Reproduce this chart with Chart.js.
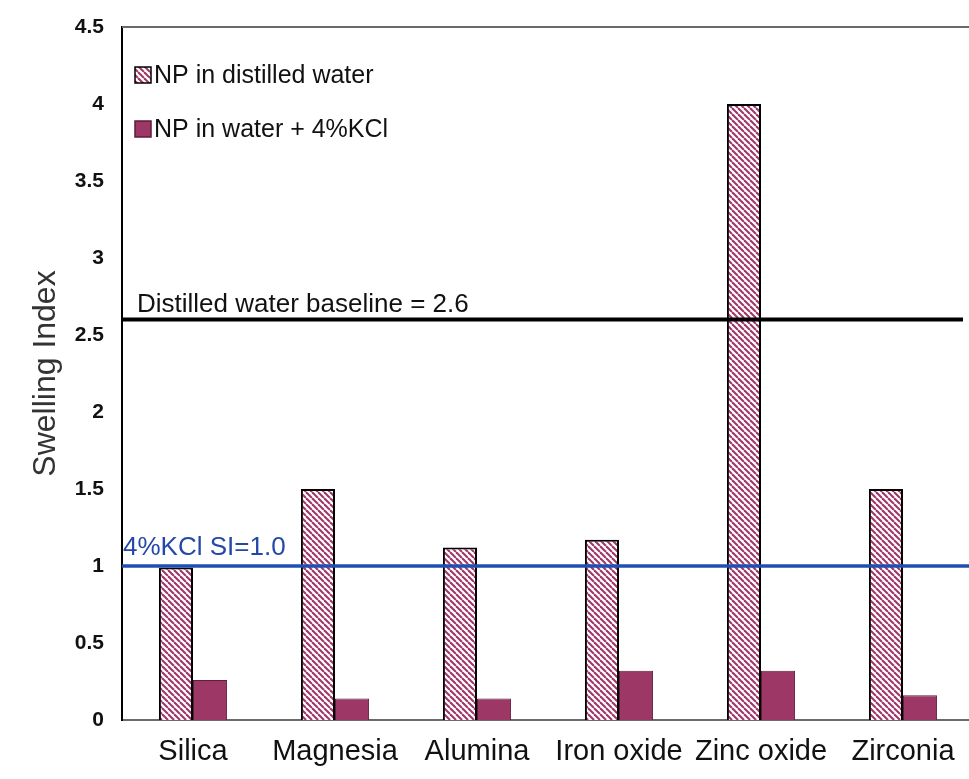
<!DOCTYPE html>
<html>
<head>
<meta charset="utf-8">
<script src="https://cdn.jsdelivr.net/npm/chart.js@4"></script>
<style>
  html, body { margin: 0; padding: 0; background: #fff; overflow: hidden; width: 969px; height: 779px; }
  canvas { display: block; }
</style>
</head>
<body>
<canvas id="chart" width="990" height="779"></canvas>
<script>
// ---- data ----
const categories = ['Silica', 'Magnesia', 'Alumina', 'Iron oxide', 'Zinc oxide', 'Zirconia'];
const seriesNames = ['NP in distilled water', 'NP in water + 4%KCl'];
const distilledWater = [0.99, 1.5, 1.12, 1.17, 4.0, 1.5];
const waterKCl = [0.26, 0.14, 0.14, 0.32, 0.32, 0.16];
const referenceValues = [2.6, 1.0];
const referenceLabels = ['Distilled water baseline = 2.6', '4%KCl SI=1.0'];

// ---- styling ----
const SANS = "'Liberation Sans', Arial, sans-serif";
const MAROON = '#9c3766';

const canvas = document.getElementById('chart');
const ctx = canvas.getContext('2d');

// diagonal "\" hatch used for the distilled-water series
function makeHatch() {
  const s = 6;
  const tile = document.createElement('canvas');
  tile.width = tile.height = s;
  const g = tile.getContext('2d');
  g.fillStyle = '#ffffff';
  g.fillRect(0, 0, s, s);
  g.strokeStyle = '#a1386a';
  g.lineWidth = 2.1;
  for (let k = -1; k <= 1; k++) {
    g.beginPath();
    g.moveTo(k * s, 0);
    g.lineTo(k * s + s, s);
    g.stroke();
  }
  return ctx.createPattern(tile, 'repeat');
}
const hatch = makeHatch();

const refStyles = [
  { color: '#000000', width: 4, labelColor: '#111111', labelX: 137, labelDy: -8, endX: 963 },
  { color: '#1f4fb0', width: 3.5, labelColor: '#2448a8', labelX: 123, labelDy: -11, endX: null }
];

// horizontal reference lines with their captions
const referenceLines = {
  id: 'referenceLines',
  afterDatasetsDraw(chart) {
    const { ctx, chartArea: a, scales: { y } } = chart;
    referenceValues.forEach((v, i) => {
      const st = refStyles[i];
      const py = y.getPixelForValue(v);
      ctx.save();
      ctx.strokeStyle = st.color;
      ctx.lineWidth = st.width;
      ctx.beginPath();
      ctx.moveTo(a.left, py);
      ctx.lineTo(st.endX || a.right, py);
      ctx.stroke();
      ctx.fillStyle = st.labelColor;
      ctx.font = '26px ' + SANS;
      ctx.textBaseline = 'alphabetic';
      ctx.textAlign = 'left';
      ctx.fillText(referenceLabels[i], st.labelX, py + st.labelDy);
      ctx.restore();
    });
  }
};

// frame line along the top of the plot and the in-plot legend
const frameAndLegend = {
  id: 'frameAndLegend',
  afterDraw(chart) {
    const { ctx, chartArea: a } = chart;
    ctx.save();
    ctx.strokeStyle = '#6a6a6a';
    ctx.lineWidth = 2;
    ctx.beginPath();
    ctx.moveTo(a.left, a.top);
    ctx.lineTo(chart.width, a.top);
    ctx.stroke();

    const items = chart.data.datasets;
    const rows = [75, 129];
    items.forEach((ds, i) => {
      const cy = rows[i];
      ctx.fillStyle = ds.backgroundColor;
      ctx.fillRect(135, cy - 8, 16, 16);
      ctx.lineWidth = 1.5;
      ctx.strokeStyle = i === 0 ? '#000' : '#5a1d3c';
      ctx.strokeRect(135, cy - 8, 16, 16);
      ctx.fillStyle = '#111';
      ctx.font = '25px ' + SANS;
      ctx.textBaseline = 'middle';
      ctx.textAlign = 'left';
      ctx.fillText(seriesNames[i], 154, cy + 1);
    });
    ctx.restore();
  }
};

new Chart(ctx, {
  type: 'bar',
  data: {
    labels: categories,
    datasets: [
      {
        label: seriesNames[0],
        data: distilledWater,
        backgroundColor: hatch,
        borderColor: '#000000',
        borderWidth: 2,
        categoryPercentage: 0.48,
        barPercentage: 1.0
      },
      {
        label: seriesNames[1],
        data: waterKCl,
        backgroundColor: MAROON,
        borderColor: '#5e1e3e',
        borderWidth: 1,
        categoryPercentage: 0.48,
        barPercentage: 1.0
      }
    ]
  },
  options: {
    responsive: false,
    animation: false,
    devicePixelRatio: 1,
    layout: { padding: { top: 27, right: 16, left: 0, bottom: 0 } },
    plugins: {
      legend: { display: false },
      tooltip: { enabled: false }
    },
    scales: {
      x: {
        grid: { display: false, drawTicks: false },
        border: { color: '#6a6a6a', width: 2 },
        ticks: { font: { family: SANS, size: 29 }, color: '#111', padding: 15, maxRotation: 0, autoSkip: false },
        afterFit(s) { s.height = 59; }
      },
      y: {
        min: 0,
        max: 4.5,
        grid: { display: false, drawTicks: false },
        border: { color: '#000000', width: 2 },
        ticks: {
          stepSize: 0.5,
          font: { family: SANS, size: 21, weight: 'bold' },
          color: '#111',
          padding: 18,
          callback: (v) => String(Math.round(v * 10) / 10)
        },
        title: {
          display: true,
          text: 'Swelling Index',
          font: { family: SANS, size: 32 },
          color: '#333',
          padding: { top: 27, bottom: 0 }
        },
        afterFit(s) {
          s.width = 122;
          s.paddingTop = 0;
          s.paddingBottom = 0;
        }
      }
    }
  },
  plugins: [referenceLines, frameAndLegend]
});
</script>
</body>
</html>
